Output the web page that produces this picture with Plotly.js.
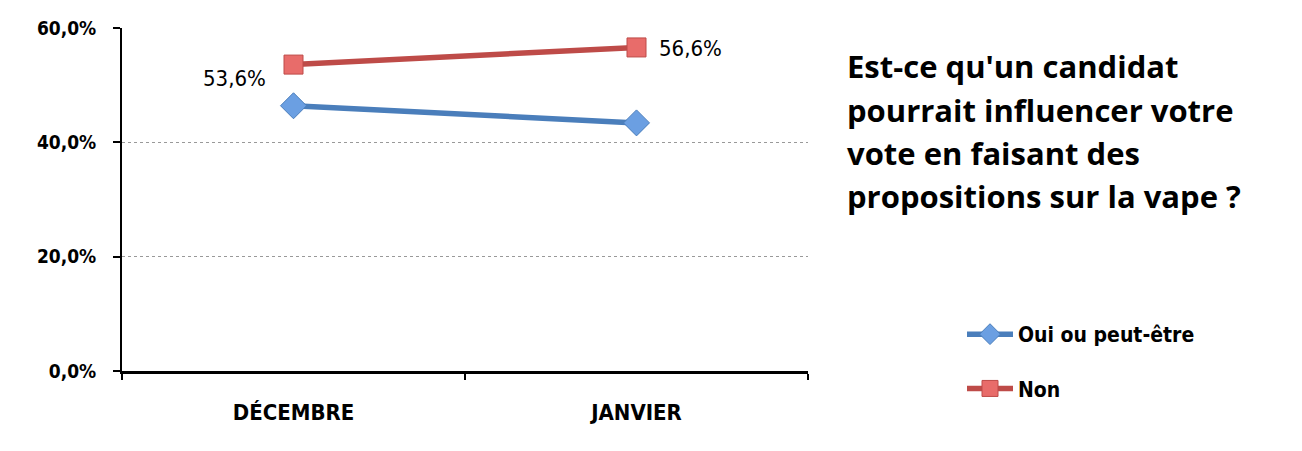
<!DOCTYPE html>
<html><head><meta charset="utf-8">
<script src="https://cdn.plot.ly/plotly-3.0.1.min.js"></script>
<style>html,body{margin:0;padding:0;background:#fff}#chart{width:1302px;height:451px}</style>
</head><body><div id="chart"></div>
<script>
const categories = ["DÉCEMBRE", "JANVIER"];
const seriesNames = ["Oui ou peut-être", "Non"];
const ouiValues = [46.4, 43.4];
const nonValues = [53.6, 56.6];
const nonLabels = ["53,6%", "56,6%"];
const yTicks = [0, 20, 40, 60];
const yTickLabels = ["0,0%", "20,0%", "40,0%", "60,0%"];
const titleLines = ["Est-ce qu'un candidat", "pourrait influencer votre", "vote en faisant des", "propositions sur la vape ?"];

const condensed = "DejaVu Sans Condensed, Liberation Sans Narrow, sans-serif";
const titleFont = {family: "Open Sans, Noto Sans, sans-serif", size: 31, color: "#000", weight: "bold"};

const traces = [
  {
    x: categories, y: ouiValues, name: seriesNames[0], type: "scatter", mode: "lines+markers",
    line: {color: "#4a7ebb", width: 5.5},
    marker: {symbol: "diamond", size: 20, color: "#6b9fe2", line: {color: "#4a7ebb", width: 1}},
    legendgroup: "a", hoverinfo: "skip"
  },
  {
    x: categories, y: nonValues, name: seriesNames[1], type: "scatter", mode: "lines+markers",
    line: {color: "#be4b48", width: 5.5},
    marker: {symbol: "square", size: 19, color: "#e86c6a", line: {color: "#be4b48", width: 1}},
    legendgroup: "b", hoverinfo: "skip"
  }
];

const labelShifts = [[-59, -14], [54, -1]];
const annotations = nonValues.map((v, i) => ({
  x: categories[i], y: v, xref: "x", yref: "y", text: nonLabels[i], showarrow: false,
  xshift: labelShifts[i][0], yshift: labelShifts[i][1],
  font: {family: condensed, size: 22, color: "#000"}
}));
titleLines.forEach((t, i) => annotations.push({
  text: t, xref: "paper", yref: "paper", x: (846 - 122) / 686, xanchor: "left",
  y: 1 - (66 + 43.5 * i - 28) / 343, yanchor: "middle", showarrow: false, align: "left",
  borderpad: 0, font: titleFont
}));

const layout = {
  width: 1302, height: 451,
  margin: {l: 122, r: 494, t: 28, b: 80},
  paper_bgcolor: "#fff", plot_bgcolor: "#fff",
  showlegend: true,
  xaxis: {
    type: "category", range: [-0.5, 1.5], showline: true, linecolor: "#000", linewidth: 3,
    ticks: "outside", tickson: "boundaries", ticklen: 6, tickwidth: 2, tickcolor: "#000",
    showgrid: false, zeroline: false, ticklabelstandoff: 20,
    tickfont: {family: condensed, size: 22, color: "#000", weight: "bold"}
  },
  yaxis: {
    range: [0, 60], tickmode: "array", tickvals: yTicks, ticktext: yTickLabels,
    showline: true, linecolor: "#000", linewidth: 2,
    ticks: "outside", ticklen: 7, tickwidth: 2, tickcolor: "#000",
    showgrid: true, gridcolor: "#999", gridwidth: 1, griddash: "dot", zeroline: false,
    ticklabelstandoff: 13,
    tickfont: {family: condensed, size: 19, color: "#000", weight: "bold"}
  },
  legend: {
    x: (962 - 122) / 686, xanchor: "left", y: 1 - (314 - 28) / 343, yanchor: "top",
    traceorder: "grouped", tracegroupgap: 24, itemwidth: 46,
    font: {family: condensed, size: 21, color: "#000", weight: "bold"},
    bgcolor: "rgba(0,0,0,0)"
  },
  annotations: annotations
};

Plotly.newPlot("chart", traces, layout, {displayModeBar: false, staticPlot: true});
</script></body></html>
